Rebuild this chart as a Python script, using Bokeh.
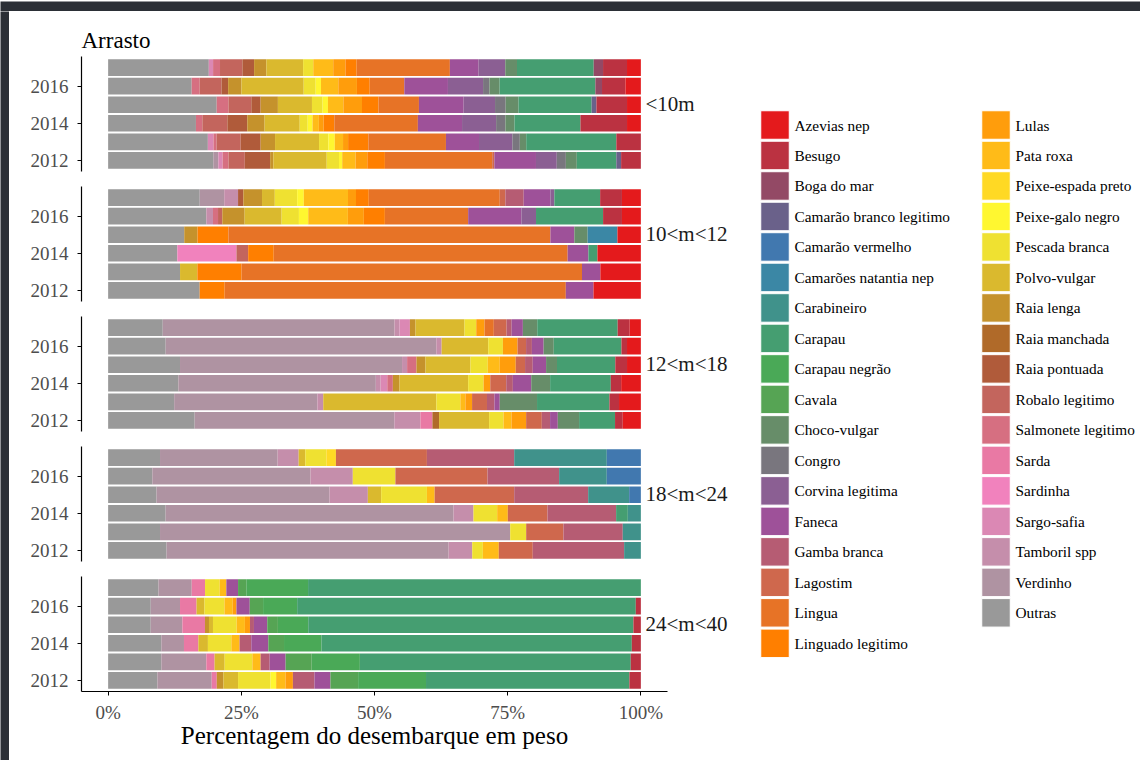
import numpy as np
from bokeh.plotting import figure
from bokeh.models import (Range1d, FixedTicker, NumeralTickFormatter, BasicTickFormatter,
                          ColumnDataSource, LinearAxis, CustomJSTickFormatter)
from bokeh.layouts import column, row
from bokeh.embed import file_html
from bokeh.resources import INLINE
from bokeh.core.properties import value

years = [2012, 2013, 2014, 2015, 2016, 2017]
year_ticks = [2012, 2014, 2016]
x_ticks = [0, 0.25, 0.5, 0.75, 1.0]

species = ["Azevias nep", "Besugo", "Boga do mar", "Camarão branco legitimo", "Camarão vermelho",
           "Camarões natantia nep", "Carabineiro", "Carapau", "Carapau negrão", "Cavala",
           "Choco-vulgar", "Congro", "Corvina legitima", "Faneca", "Gamba branca", "Lagostim",
           "Lingua", "Linguado legitimo", "Lulas", "Pata roxa", "Peixe-espada preto",
           "Peixe-galo negro", "Pescada branca", "Polvo-vulgar", "Raia lenga", "Raia manchada",
           "Raia pontuada", "Robalo legitimo", "Salmonete legitimo", "Sarda", "Sardinha",
           "Sargo-safia", "Tamboril spp", "Verdinho", "Outras"]

panels = ["<10m", "10<m<12", "12<m<18", "18<m<24", "24<m<40"]

# percentages per species, years 2012..2017
seg_lt10 = {
    "Outras":             [19.7, 18.7, 16.5, 20.4, 15.7, 18.9],
    "Verdinho":           [0.95, 0, 0, 0, 0, 0],
    "Sargo-safia":        [0.8, 1.05, 0, 0, 0, 0.8],
    "Salmonete legitimo": [1.1, 0.6, 1.2, 2.2, 1.5, 1.3],
    "Robalo legitimo":    [3.05, 4.5, 4.7, 4.3, 4.1, 4.2],
    "Raia pontuada":      [4.75, 3.75, 3.75, 1.75, 1.25, 2.2],
    "Raia lenga":         [0.6, 2.7, 3.25, 3.25, 2.5, 2.3],
    "Polvo-vulgar":       [10.0, 8.25, 6.6, 6.4, 11.7, 6.9],
    "Pescada branca":     [2.3, 1.75, 1.5, 2.0, 2.25, 1.9],
    "Peixe-galo negro":   [0.6, 1.2, 0.9, 1.0, 1.0, 0],
    "Pata roxa":          [2.5, 1.55, 1.2, 2.9, 3.25, 3.75],
    "Lulas":              [2.2, 0.95, 0.9, 3.5, 3.5, 2.3],
    "Linguado legitimo":  [3.3, 3.8, 2.0, 3.1, 2.4, 2.1],
    "Lingua":             [20.1, 14.55, 15.7, 7.6, 6.5, 17.5],
    "Lagostim":           [0.4, 0, 0, 0, 0, 0],
    "Faneca":             [7.8, 6.2, 8.3, 8.4, 8.2, 5.4],
    "Corvina legitima":   [3.9, 6.25, 6.4, 5.9, 6.6, 5.0],
    "Congro":             [1.7, 1.4, 1.75, 2.0, 1.2, 0],
    "Choco-vulgar":       [2.05, 1.2, 1.7, 2.4, 1.9, 2.2],
    "Carapau":            [7.4, 16.9, 12.4, 13.75, 18.0, 14.4],
    "Camarão branco legitimo": [0.9, 0, 0, 0.9, 0, 0],
    "Boga do mar":        [0, 0, 0, 0, 1.25, 1.75],
    "Besugo":             [3.7, 4.6, 8.75, 5.75, 4.4, 4.5],
    "Azevias nep":        [0, 0, 2.6, 2.6, 2.9, 2.6],
}

seg_10_12 = {
    "Outras":             [17.2, 13.5, 13.0, 14.3, 18.45, 17.2],
    "Verdinho":           [0, 0, 0, 0, 0, 4.6],
    "Tamboril spp":       [0, 0, 0, 0, 1.25, 2.6],
    "Sardinha":           [0, 0, 11.1, 0, 0, 0],
    "Salmonete legitimo": [0, 0, 0, 0, 0.95, 0],
    "Robalo legitimo":    [0, 0, 2.2, 0, 0.8, 0],
    "Raia pontuada":      [0, 0, 0, 0, 0, 1.0],
    "Raia lenga":         [0, 0, 0, 2.5, 4.2, 3.5],
    "Polvo-vulgar":       [0, 3.25, 0, 0, 6.95, 2.4],
    "Pescada branca":     [0, 0, 0, 0, 3.25, 4.2],
    "Peixe-galo negro":   [0, 0, 0, 0, 1.75, 1.25],
    "Pata roxa":          [0, 0, 0, 0, 7.45, 8.3],
    "Lulas":              [0, 0, 0, 0, 3.0, 1.5],
    "Linguado legitimo":  [4.7, 8.3, 4.8, 5.8, 3.95, 2.4],
    "Lingua":             [64.1, 63.9, 55.2, 60.5, 15.65, 24.6],
    "Lagostim":           [0, 0, 0, 0, 0, 1.05],
    "Gamba branca":       [0, 0, 0, 0, 0, 3.45],
    "Faneca":             [5.2, 3.45, 3.9, 4.5, 10.0, 5.0],
    "Corvina legitima":   [0, 0, 0, 0, 2.75, 0.75],
    "Choco-vulgar":       [0, 0, 0, 2.5, 0, 0],
    "Carapau":            [0, 0, 1.7, 0, 12.6, 8.6],
    "Camarões natantia nep": [0, 0, 0, 5.6, 0, 0],
    "Besugo":             [0, 0, 0, 0, 3.55, 4.1],
    "Azevias nep":        [8.9, 7.6, 8.15, 4.4, 3.55, 3.55],
}

seg_12_18 = {
    "Outras":             [16.25, 12.4, 13.2, 13.5, 10.8, 10.25],
    "Verdinho":           [37.5, 26.9, 37.1, 41.7, 50.8, 43.5],
    "Tamboril spp":       [4.9, 1.1, 0.9, 0.95, 1.0, 0.95],
    "Sargo-safia":        [0, 0, 1.25, 0, 0, 1.95],
    "Sarda":              [2.25, 0, 0, 0, 0, 0],
    "Salmonete legitimo": [0, 0, 1.05, 1.75, 0, 0],
    "Raia manchada":      [1.25, 0, 0, 0, 0, 0],
    "Raia lenga":         [0, 0, 1.25, 1.7, 0, 1.05],
    "Polvo-vulgar":       [9.4, 21.25, 12.9, 8.45, 8.75, 9.2],
    "Pescada branca":     [2.7, 4.5, 2.9, 3.25, 2.75, 2.2],
    "Pata roxa":          [1.5, 0.95, 0, 2.25, 0, 0],
    "Lulas":              [2.75, 1.25, 1.25, 3.0, 2.75, 1.55],
    "Lingua":             [0, 0, 0, 0, 0, 1.75],
    "Lagostim":           [2.95, 2.8, 3.0, 1.75, 1.6, 2.4],
    "Gamba branca":       [1.55, 1.4, 1.25, 1.45, 1.1, 0.95],
    "Faneca":             [1.45, 1.0, 3.45, 2.5, 2.2, 2.1],
    "Choco-vulgar":       [4.0, 7.0, 3.55, 2.05, 1.9, 2.7],
    "Carapau":            [6.75, 13.6, 11.4, 10.95, 12.7, 15.1],
    "Besugo":             [1.45, 1.8, 1.95, 2.2, 1.05, 2.25],
    "Azevias nep":        [3.4, 4.1, 3.7, 2.6, 2.6, 2.1],
}

seg_18_24 = {
    "Outras":             [11.0, 9.75, 10.8, 9.1, 8.3, 9.75],
    "Verdinho":           [53.1, 65.8, 54.1, 32.5, 29.7, 22.1],
    "Tamboril spp":       [4.45, 0, 3.75, 7.2, 7.95, 3.95],
    "Polvo-vulgar":       [0, 0, 0, 2.5, 0, 1.25],
    "Pescada branca":     [2.0, 3.0, 4.45, 8.6, 8.0, 3.95],
    "Peixe-espada preto": [0, 0, 0, 0, 0, 1.8],
    "Pata roxa":          [3.0, 0, 2.0, 1.45, 0, 0],
    "Lagostim":           [6.4, 7.0, 7.45, 14.95, 17.3, 17.1],
    "Gamba branca":       [17.2, 11.15, 12.9, 13.9, 13.45, 16.4],
    "Carapau":            [0, 0, 2.2, 0, 0, 0],
    "Carabineiro":        [3.15, 3.4, 2.45, 7.7, 8.95, 17.4],
    "Camarão vermelho":   [0, 0, 0, 2.2, 6.4, 6.4],
}

seg_24_40 = {
    "Outras":             [9.25, 10.0, 10.0, 8.0, 8.0, 9.45],
    "Verdinho":           [10.2, 8.45, 4.25, 5.95, 5.5, 6.25],
    "Sarda":              [0.95, 1.55, 2.7, 4.25, 3.1, 2.5],
    "Raia lenga":         [1.25, 0, 0, 0.75, 0, 0],
    "Polvo-vulgar":       [2.75, 1.9, 1.8, 0.75, 1.5, 0],
    "Pescada branca":     [6.1, 5.2, 4.4, 4.45, 3.75, 2.75],
    "Peixe-galo negro":   [1.05, 0, 0, 0, 0, 0],
    "Pata roxa":          [1.75, 1.55, 1.55, 1.55, 1.55, 1.25],
    "Lulas":              [1.4, 0, 0, 0.95, 0.7, 0],
    "Gamba branca":       [4.05, 1.7, 2.2, 0.75, 0, 0],
    "Faneca":             [3.0, 3.0, 3.2, 2.5, 2.5, 2.2],
    "Cavala":             [5.2, 4.9, 2.95, 2.0, 2.5, 1.55],
    "Carapau negrão":     [12.75, 9.05, 7.05, 5.7, 6.4, 11.6],
    "Carapau":            [38.2, 50.9, 58.3, 61.1, 63.6, 62.5],
    "Besugo":             [2.15, 1.9, 1.7, 1.4, 0.95, 0],
}

panel_data = [seg_lt10, seg_10_12, seg_12_18, seg_18_24, seg_24_40]

# ---- colours: Set1 ramp (colorRampPalette) over the species ----
set1 = ["#E41A1C", "#377EB8", "#4DAF4A", "#984EA3", "#FF7F00",
        "#FFFF33", "#A65628", "#F781BF", "#999999"]


def ramp(anchors_hex, n):
    a = np.array([[int(h[i:i + 2], 16) for i in (1, 3, 5)] for h in anchors_hex], float)
    m = len(a) - 1
    out = []
    for t in np.linspace(0, m, n):
        k = min(int(np.floor(t)), m - 1)
        f = t - k
        c = a[k] * (1 - f) + a[k + 1] * f
        out.append("#%02X%02X%02X" % tuple(int(round(v)) for v in c))
    return out


palette = dict(zip(species, ramp(set1, len(species))))

SERIF = "Liberation Serif"
TICK_COL = "#4D4D4D"
FRAME_DARK = "#2B2F36"
TOP_BAND = 11
LEFT_BAND = 9


def band(w, h):
    b = figure(width=w, height=h, output_backend="svg", toolbar_location=None, min_border=0,
               x_axis_location=None, y_axis_location=None, outline_line_color=None,
               background_fill_color=FRAME_DARK, border_fill_color=FRAME_DARK)
    b.grid.visible = False
    return b


figs = []
n = len(panels)
for i, (name, data) in enumerate(zip(panels, panel_data)):
    last = i == n - 1
    first = i == 0
    p = figure(frame_width=586, frame_height=115,
               x_range=Range1d(-0.05, 1.05), y_range=Range1d(2011.4, 2017.6),
               output_backend="svg", toolbar_location=None,
               x_axis_location="below" if last else None,
               min_border_left=81 - LEFT_BAND, min_border_right=80,
               min_border_top=(56 - TOP_BAND) if first else 8,
               min_border_bottom=62 if last else 7,
               outline_line_color=None,
               background_fill_color="white", border_fill_color="white")
    p.grid.visible = False

    totals = np.zeros(len(years))
    for sp in species:
        if sp in data:
            totals += np.array(data[sp], float)
    ys, lefts, rights, cols = [], [], [], []
    cum = np.zeros(len(years))
    for sp in reversed(species):  # Outras on the left, Azevias on the right
        if sp not in data:
            continue
        frac = np.array(data[sp], float) / totals
        for j, yv in enumerate(years):
            if frac[j] > 0:
                ys.append(yv)
                lefts.append(cum[j])
                rights.append(cum[j] + frac[j])
                cols.append(palette[sp])
        cum += frac
    src = ColumnDataSource(dict(y=ys, left=lefts, right=rights, color=cols))
    p.hbar(y="y", left="left", right="right", height=0.9, fill_color="color",
           line_color=None, source=src)

    ya = p.yaxis[0]
    ya.ticker = FixedTicker(ticks=year_ticks)
    ya.formatter = BasicTickFormatter(use_scientific=False)
    ya.axis_line_color = "black"
    ya.axis_line_width = 1.2
    ya.major_tick_line_color = "black"
    ya.major_tick_out = 4
    ya.major_tick_in = 0
    ya.minor_tick_line_color = None
    ya.major_label_text_font = SERIF
    ya.major_label_text_font_size = "19px"
    ya.major_label_text_color = TICK_COL
    ya.major_label_standoff = 9

    # facet strip label on the right
    p.extra_y_ranges = {"strip": Range1d(2011.4, 2017.6)}
    sa = LinearAxis(y_range_name="strip", ticker=FixedTicker(ticks=[2015.05]),
                    formatter=CustomJSTickFormatter(args=dict(lab=name), code="return lab;"),
                    axis_line_color=None, major_tick_line_color=None,
                    minor_tick_line_color=None, major_tick_out=0, major_tick_in=0,
                    major_label_standoff=-22, major_label_text_font=SERIF,
                    major_label_text_font_size="21px", major_label_text_color="#1A1A1A")
    p.add_layout(sa, "right")

    if last:
        xa = p.xaxis[0]
        xa.ticker = FixedTicker(ticks=x_ticks)
        xa.formatter = NumeralTickFormatter(format="0%")
        xa.axis_line_color = "black"
        xa.axis_line_width = 1.2
        xa.major_tick_line_color = "black"
        xa.major_tick_out = 4
        xa.major_tick_in = 0
        xa.minor_tick_line_color = None
        xa.major_label_text_font = SERIF
        xa.major_label_text_font_size = "19px"
        xa.major_label_text_color = TICK_COL
        xa.major_label_standoff = 6
        xa.axis_label = "Percentagem do desembarque em peso"
        xa.axis_label_text_font = SERIF
        xa.axis_label_text_font_size = "25px"
        xa.axis_label_text_font_style = "normal"
        xa.axis_label_text_color = "black"
        xa.axis_label_standoff = -4

    if first:
        p.title.text = "Arrasto"
        p.title.text_font = SERIF
        p.title.text_font_size = "23px"
        p.title.text_font_style = "normal"
        p.title.text_color = "black"
        p.title.align = "left"
        p.title.standoff = 8
    figs.append(p)

col_h = (56 - TOP_BAND + 115 + 7) + 3 * (8 + 115 + 7) + (8 + 115 + 62)

# ---- legend (two columns, drawn in pixel coordinates of the page) ----
leg = figure(width=390, height=col_h, x_range=Range1d(747, 1137),
             y_range=Range1d(TOP_BAND + col_h, TOP_BAND),
             output_backend="svg", toolbar_location=None, min_border=0,
             x_axis_location=None, y_axis_location=None, outline_line_color=None,
             background_fill_color="white", border_fill_color="white")
leg.grid.visible = False

n_left = 18
pitch = 30.49
kx, ky, ks = [], [], []
tx, ty, tt = [], [], []
for idx, sp in enumerate(species):
    colnum = 0 if idx < n_left else 1
    r = idx if idx < n_left else idx - n_left
    key_cx = 774.5 if colnum == 0 else 995.5
    cy = 124.5 + r * pitch
    kx.append(key_cx)
    ky.append(cy)
    ks.append(palette[sp])
    tx.append(key_cx + 19.5)
    ty.append(cy)
    tt.append(sp)
leg.rect(x=kx, y=ky, width=28.5, height=28.5, fill_color=ks, line_color="white", line_width=1)
leg.text(x=tx, y=ty, text=tt, text_font=value(SERIF), text_font_size="15.3px",
         text_baseline="middle", text_align="left", text_color="black")

top = band(1140, TOP_BAND)
left = band(LEFT_BAND, 760 - TOP_BAND)
layout = column(top, row(left, column(*figs), leg))
open("out.html", "w").write(file_html(layout, INLINE))
